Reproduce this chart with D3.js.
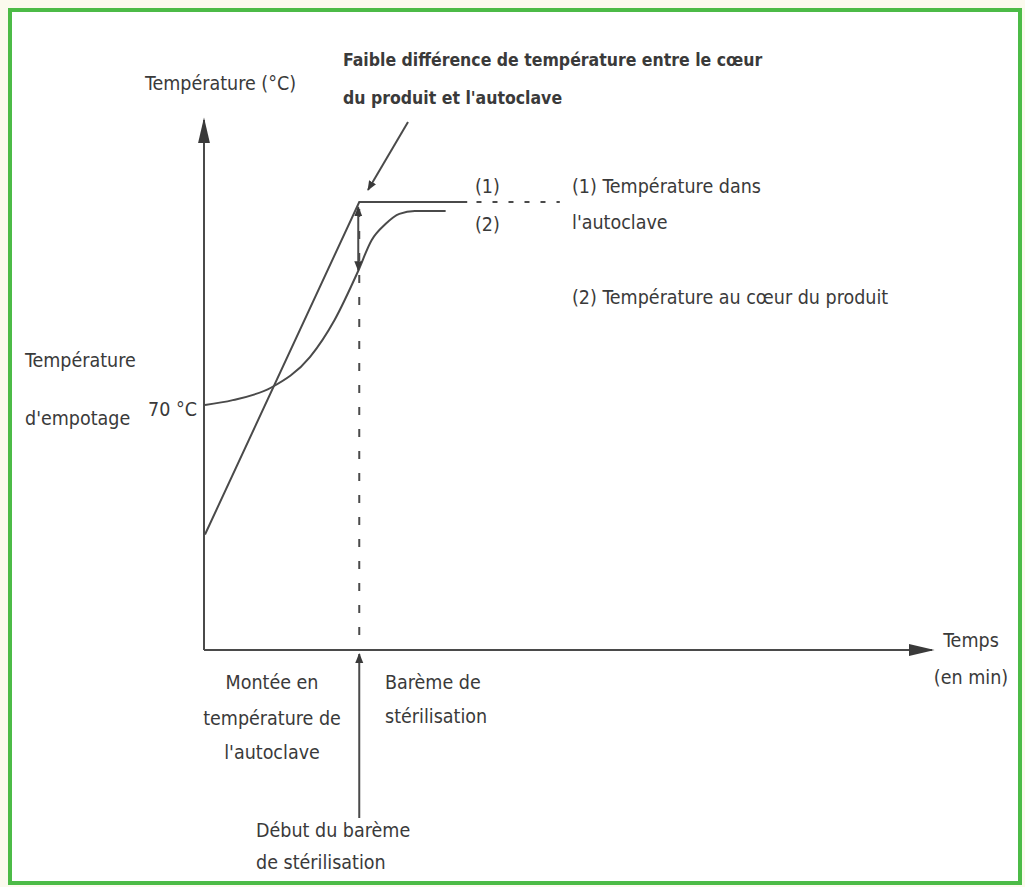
<!DOCTYPE html>
<html>
<meta charset="utf-8">
<title>Température autoclave</title>
<style>
body {
  margin: 0;
  background: #fbfaee;
}

svg text {
  font-family: "Liberation Sans Narrow", "DejaVu Sans Condensed", sans-serif;
  fill: #3a3a3a;
  font-size: 19.5px;
}

.bold {
  font-weight: bold;
  font-size: 17.5px;
}

.curve {
  fill: none;
  stroke: #4a4a4a;
  stroke-width: 2;
}

.guide {
  fill: none;
  stroke: #4a4a4a;
  stroke-width: 2;
}
</style>
<body>
<div id="chart"></div>
<script src="https://d3js.org/d3.v7.min.js"></script>
<script>

// temps (min) / température (°C)
var autoclaveTime = [0, 10, 17];
var autoclaveTemp = [33, 128, 128];
var autoclaveExtTime = [17.6, 23];
var autoclaveExtTemp = [128, 128];

var productTime = [0, 1.8, 4.3, 6.8, 8.4, 9.9, 10.8, 11.7, 12.6, 13.6, 15.6];
var productTemp = [70, 71.4, 75, 83.7, 94.3, 108, 117.1, 121.7, 124.6, 125.4, 125.4];

var startTime = 10;       // début du barème
var fillTemp = 70;        // température d'empotage

var width = 1025,
  height = 887;

var x = d3.scaleLinear().domain([0, 47]).range([205, 930]);
var y = d3.scaleLinear().domain([0, 150]).range([650, 125]);

var svg = d3.select("#chart").append("svg")
  .attr("width", width)
  .attr("height", height);

var defs = svg.append("defs");
defs.append("marker")
  .attr("id", "head")
  .attr("viewBox", "0 0 10 10")
  .attr("refX", 9)
  .attr("refY", 5)
  .attr("markerUnits", "userSpaceOnUse")
  .attr("markerWidth", 10)
  .attr("markerHeight", 10)
  .attr("orient", "auto-start-reverse")
  .append("path")
  .attr("d", "M0,1L10,5L0,9Z")
  .attr("fill", "#3a3a3a");

defs.append("marker")
  .attr("id", "bighead")
  .attr("viewBox", "0 0 10 10")
  .attr("refX", 9)
  .attr("refY", 5)
  .attr("markerUnits", "userSpaceOnUse")
  .attr("markerWidth", 26)
  .attr("markerHeight", 12)
  .attr("orient", "auto")
  .attr("preserveAspectRatio", "none")
  .append("path")
  .attr("d", "M0,0L10,5L0,10Z")
  .attr("fill", "#3a3a3a");

// cadre vert
svg.append("rect")
  .attr("x", 10)
  .attr("y", 10)
  .attr("width", 1010)
  .attr("height", 873)
  .attr("fill", "#ffffff")
  .attr("stroke", "#4cbb47")
  .attr("stroke-width", 4);

// axes
svg.append("line")
  .attr("class", "guide")
  .attr("x1", x(0) - 1).attr("y1", y(0))
  .attr("x2", x(0) - 1).attr("y2", 120)
  .attr("marker-end", "url(#bighead)");

svg.append("line")
  .attr("class", "guide")
  .attr("x1", x(0) - 1).attr("y1", y(0))
  .attr("x2", 932).attr("y2", y(0))
  .attr("marker-end", "url(#bighead)");

// verticale pointillée au début du barème
svg.append("line")
  .attr("class", "guide")
  .attr("x1", x(startTime)).attr("y1", y(126))
  .attr("x2", x(startTime)).attr("y2", y(0))
  .attr("stroke-width", 1.8)
  .attr("stroke-dasharray", "8,14");

var line = d3.line()
  .x(function(d) { return x(d[0]); })
  .y(function(d) { return y(d[1]); });

var smooth = d3.line()
  .x(function(d) { return x(d[0]); })
  .y(function(d) { return y(d[1]); })
  .curve(d3.curveMonotoneX);

svg.append("path")
  .attr("class", "curve")
  .attr("d", line(d3.zip(autoclaveTime, autoclaveTemp)));

svg.append("path")
  .attr("class", "curve")
  .attr("stroke-dasharray", "5,11")
  .attr("d", line(d3.zip(autoclaveExtTime, autoclaveExtTemp)));

svg.append("path")
  .attr("class", "curve")
  .attr("d", smooth(d3.zip(productTime, productTemp)));

// double flèche entre les deux courbes
svg.append("line")
  .attr("class", "guide")
  .attr("x1", x(startTime) - 1).attr("y1", y(126.5))
  .attr("x2", x(startTime) - 1).attr("y2", y(108.5))
  .attr("marker-start", "url(#head)")
  .attr("marker-end", "url(#head)");

// flèche de l'annotation
svg.append("line")
  .attr("class", "guide")
  .attr("x1", 408).attr("y1", 122)
  .attr("x2", 368).attr("y2", 190)
  .attr("marker-end", "url(#head)");

// flèche "Début du barème"
svg.append("line")
  .attr("class", "guide")
  .attr("x1", x(startTime)).attr("y1", 818)
  .attr("x2", x(startTime)).attr("y2", y(0) + 4)
  .attr("marker-end", "url(#head)");

// textes
var labels = [
  {t: "Température (°C)", x: 145, y: 90},
  {t: "Faible différence de température entre le cœur", x: 343, y: 66, b: true},
  {t: "du produit et l'autoclave", x: 343, y: 104, b: true},
  {t: "(1)", x: 475, y: 193},
  {t: "(2)", x: 475, y: 231},
  {t: "(1) Température dans", x: 572, y: 193},
  {t: "l'autoclave", x: 572, y: 229},
  {t: "(2) Température au cœur du produit", x: 572, y: 304},
  {t: "Température", x: 25, y: 367},
  {t: "d'empotage", x: 25, y: 425},
  {t: "70 °C", x: 148, y: y(fillTemp) + 11},
  {t: "Temps", x: 971, y: 647, a: "middle"},
  {t: "(en min)", x: 971, y: 684, a: "middle"},
  {t: "Montée en", x: 272, y: 689, a: "middle"},
  {t: "température de", x: 272, y: 725, a: "middle"},
  {t: "l'autoclave", x: 272, y: 759, a: "middle"},
  {t: "Barème de", x: 385, y: 689},
  {t: "stérilisation", x: 385, y: 723},
  {t: "Début du barème", x: 256, y: 837},
  {t: "de stérilisation", x: 256, y: 869}
];

svg.append("g").selectAll("text")
  .data(labels)
  .enter().append("text")
  .attr("x", function(d) { return d.x; })
  .attr("y", function(d) { return d.y; })
  .attr("text-anchor", function(d) { return d.a || "start"; })
  .attr("class", function(d) { return d.b ? "bold" : null; })
  .text(function(d) { return d.t; });

</script>
</body>
</html>
